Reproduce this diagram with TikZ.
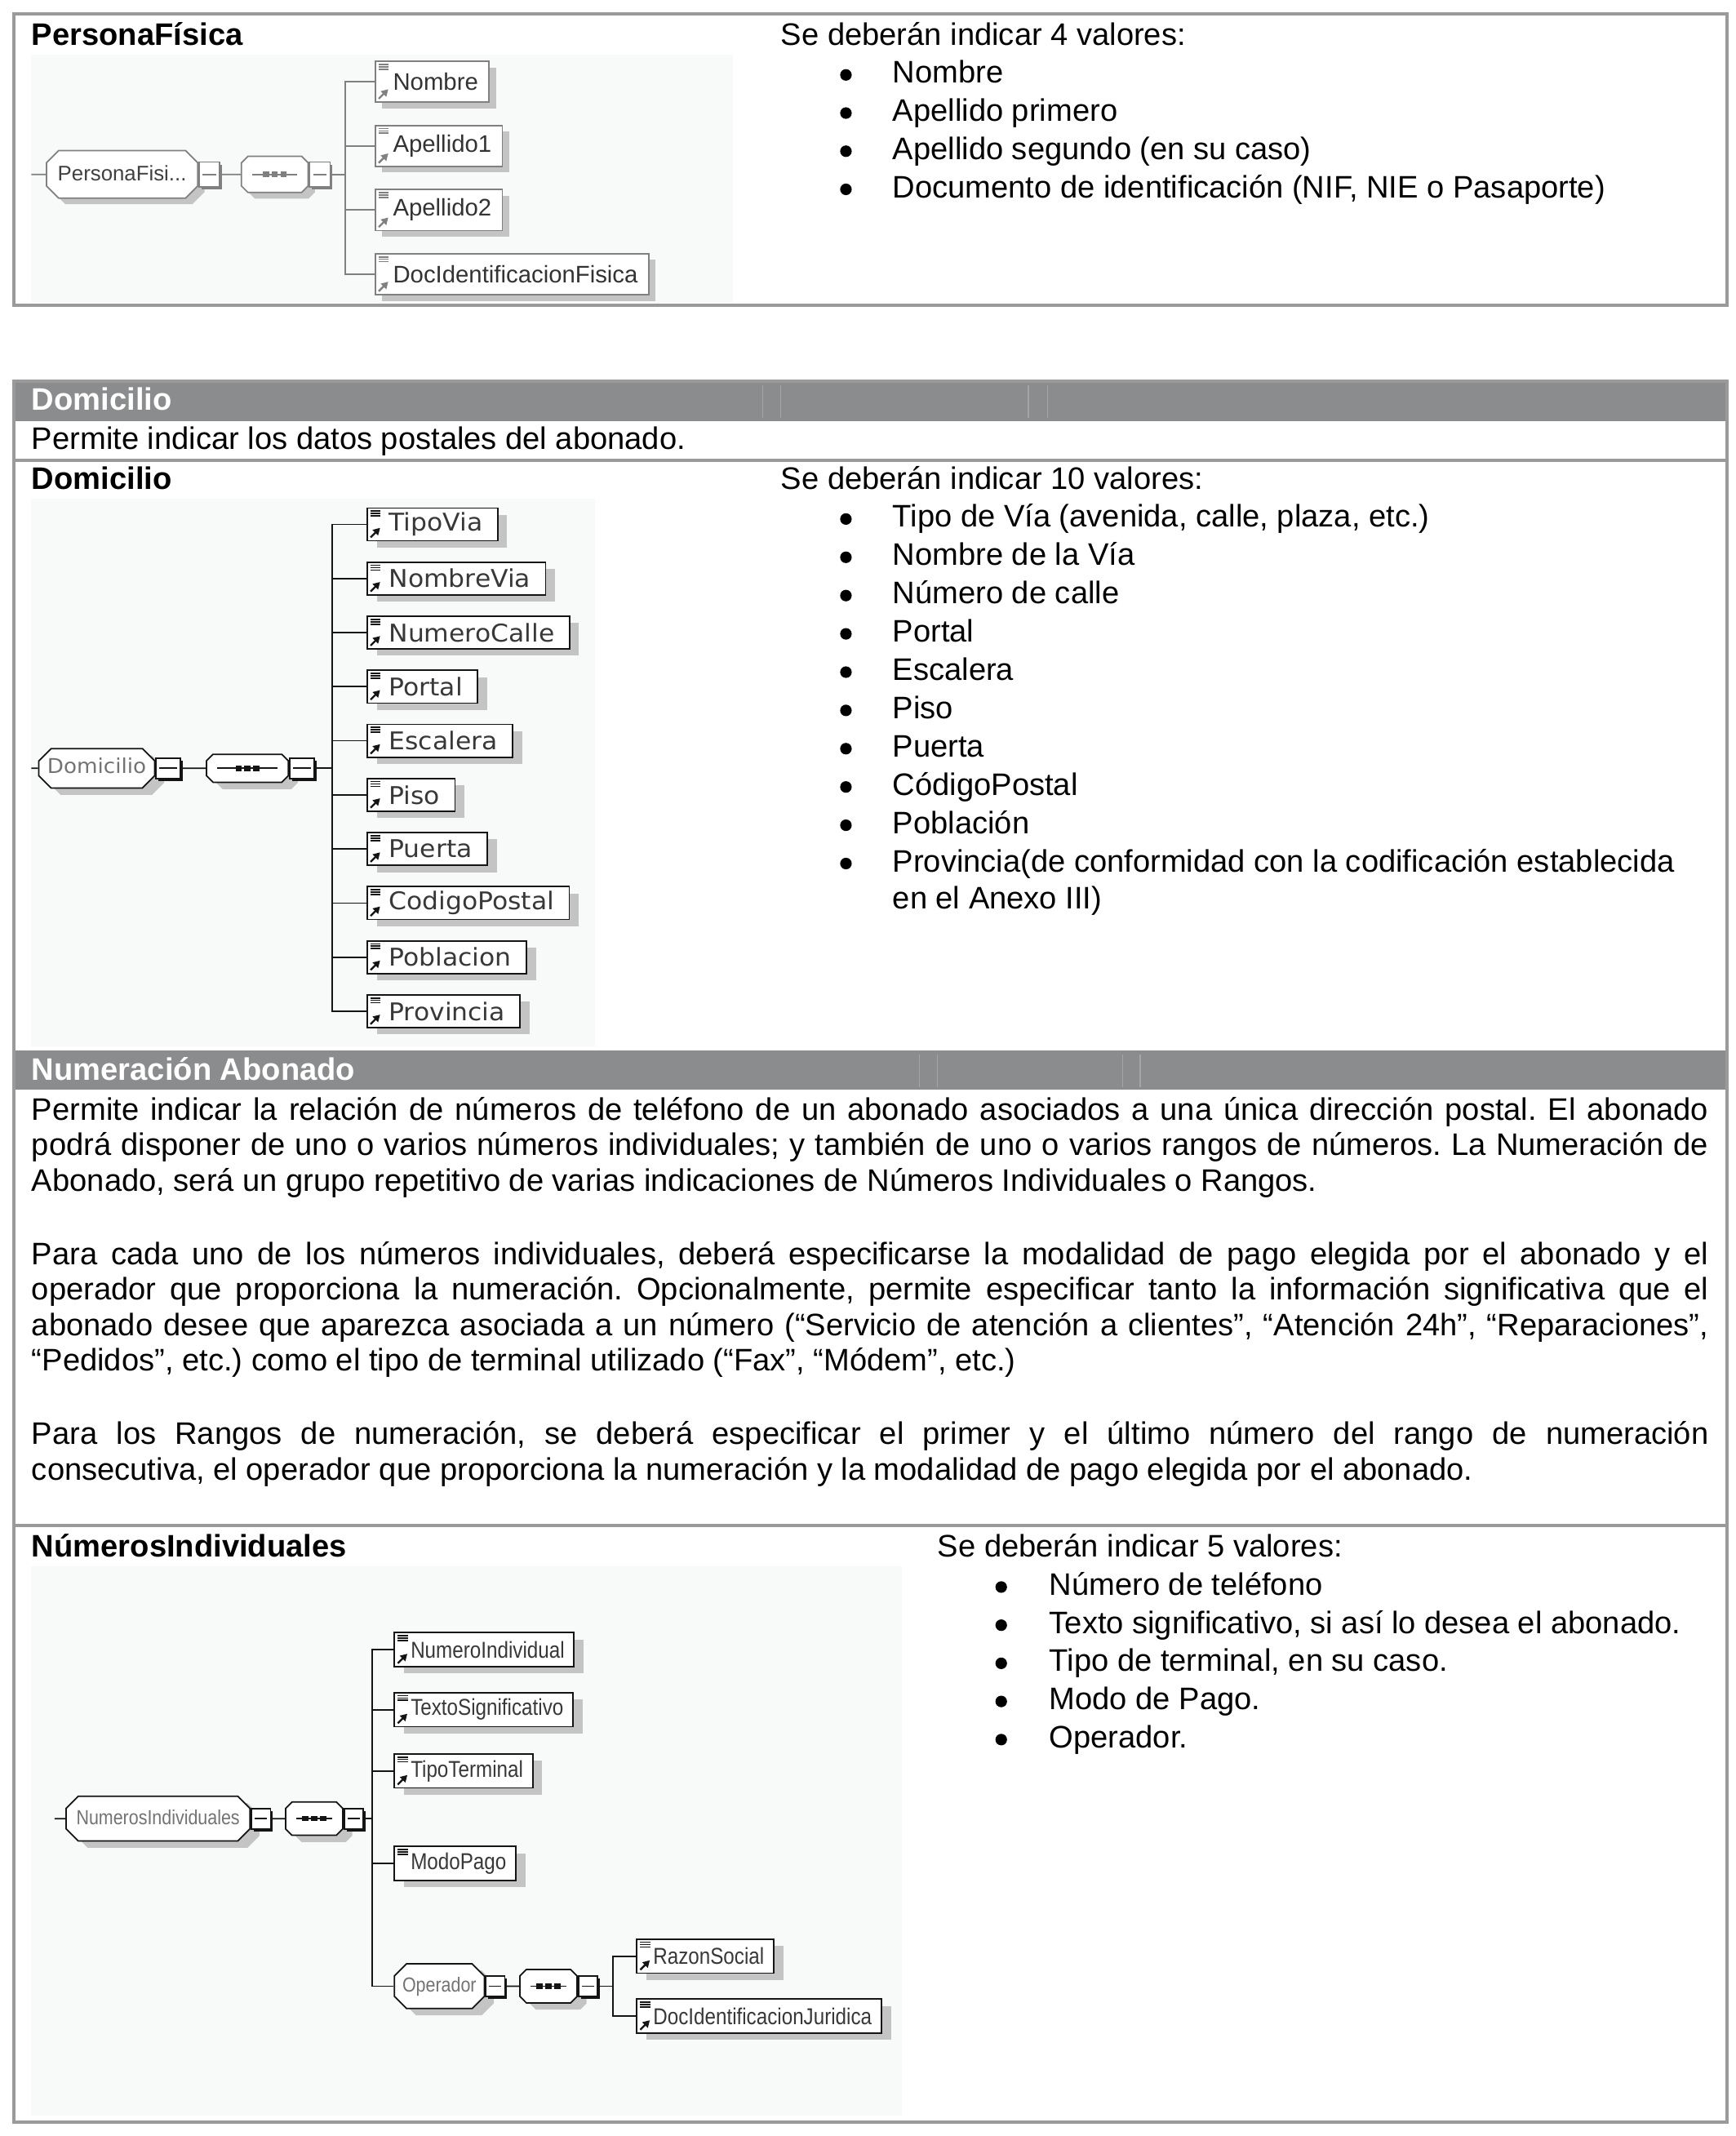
\documentclass[tikz,border=0pt]{standalone}
\usepackage{fontspec}
\setmainfont{Liberation Sans}
\newfontfamily\verdfont[FakeStretch=1.05]{DejaVu Sans}
\newfontfamily\narrowfont[FakeStretch=0.86]{Liberation Sans}
\usetikzlibrary{arrows.meta,positioning,shapes.misc,shadows}
\definecolor{rulegray}{HTML}{9A9A9A}
\definecolor{headgray}{HTML}{8B8C8D}
\definecolor{headline}{HTML}{A4A5A6}
\definecolor{diagbg}{HTML}{F8F9F9}
\definecolor{shadegray}{HTML}{C4C4C4}
\colorlet{xsdline}{black!92}
\colorlet{xsdlabel}{black!78}
\colorlet{xsdgrey}{black!55}
\newcommand\bodysize{\fontsize{13}{14.8}\selectfont}
\frenchspacing
% little icons of the schema boxes
\newcommand\xsdlines{\foreach \k in {0.45,0.8,1.15}{\draw[xsdline, line width=0.6pt] ([xshift=0.45mm,yshift=-\k mm]path picture bounding box.north west) -- ++(1.5mm,0);}}
\newcommand\xsdref{\draw[xsdline, line width=0.8pt, -{Triangle[length=1mm,width=1.1mm]}] ([xshift=0.5mm,yshift=0.5mm]path picture bounding box.south west) -- ++(1.4mm,1.4mm);}
\newcommand\xsddots{\draw[xsdline, line width=0.6pt] ([xshift=1.6mm]path picture bounding box.west) -- ([xshift=-1.6mm]path picture bounding box.east);
  \foreach \d in {-1.3,0,1.3}{\fill[xsdline] ([xshift=\d mm]path picture bounding box.center) +(-0.45mm,-0.4mm) rectangle +(0.45mm,0.4mm);}}
\tikzset{
  tableframe/.style={draw=rulegray, line width=1.3pt},
  headbar/.style={fill=headgray},
  headfaint/.style={draw=headline, line width=0.5pt},
  headtext/.style={anchor=base west, inner sep=0pt, text=white, font=\bodysize\bfseries},
  body/.style={anchor=base west, inner sep=0pt, font=\bodysize},
  bodybold/.style={body, font=\bodysize\bfseries},
  bulletdot/.style={circle, fill=black, inner sep=0pt, minimum size=1.7mm},
  para/.style={anchor=north west, inner sep=0pt, text width=246.2mm, align=justify, font=\bodysize, execute at begin node=\strut},
  xsdshadow/.style={drop shadow={shadow xshift=1.4mm, shadow yshift=-1mm, fill=shadegray, opacity=1}},
  xsdelem/.style={rectangle, draw=xsdline, line width=0.6pt, fill=white, xsdshadow, anchor=west, inner xsep=2.2mm, inner ysep=0pt, minimum height=4.8mm, text=xsdlabel, execute at begin node=\hspace*{1mm}, path picture={\xsdlines\xsdref}},
  xsdleaf/.style={xsdelem, path picture={\xsdlines}},
  xsdgroup/.style={chamfered rectangle, chamfered rectangle xsep=0.55mm, draw=xsdline, line width=0.6pt, fill=white, xsdshadow, anchor=west, inner xsep=0.4mm, inner ysep=0pt, text height=2.4mm, text depth=0.9mm, text=xsdgrey},
  xsdseqbox/.style={xsdgroup, path picture={\xsddots}},
  xsdminus/.style={rectangle, draw=xsdline, line width=0.6pt, fill=white, drop shadow={shadow xshift=0.35mm, shadow yshift=-0.35mm, fill=xsdline, opacity=1}, inner sep=0pt, minimum width=3.6mm, minimum height=3mm, path picture={\draw[xsdline, line width=0.6pt] ([xshift=0.5mm]path picture bounding box.west) -- ([xshift=-0.5mm]path picture bounding box.east);}},
  xsdconn/.style={draw=xsdline, line width=0.6pt}
}

\begin{document}
\begin{tikzpicture}[x=0.2mm, y=-0.2mm]
\useasboundingbox (0,0) rectangle (1274,1568);

% ---- PersonaFisica
\draw[tableframe] (10,10) rectangle (1268,224);
\node[bodybold] (pfhead) at (23,33) {PersonaFísica};
\node[body] (pfintro) at (573,33) {Se deberán indicar 4 valores:};
\foreach \txt [count=\i] in {Nombre, Apellido primero, Apellido segundo (en su caso), {Documento de identificación (NIF, NIE o Pasaporte)}} {
  \node[bulletdot] (pfdot\i) at (621,27+28*\i) {};
  \node[body] (pfitem\i) at (655,33+28*\i) {\txt};
}
\fill[diagbg] (23,40) rectangle (538,222);
\begin{scope}[font=\fontsize{10}{12}\selectfont, xsdelem/.append style={minimum height=6mm, inner xsep=1.6mm}, xsdgroup/.append style={font=\fontsize{8.8}{10}\selectfont, text height=3.2mm, text depth=1.3mm}, xsdminus/.append style={minimum width=3mm, minimum height=3.6mm}, xsdshadow/.style={drop shadow={shadow xshift=1mm, shadow yshift=-0.9mm, fill=shadegray, opacity=1}}]
  \colorlet{xsdline}{black!50}\colorlet{xsdlabel}{black!80}\colorlet{xsdgrey}{black!75}
  \coordinate (pfin) at (23,128);
  \node[xsdgroup, minimum width=22.2mm] (pfroot) at (33.6,128) {PersonaFisi...};
  \node[xsdminus, right=0mm of pfroot] (pfrootm) {};
  \node[xsdseqbox, minimum width=9.8mm, right=3mm of pfrootm] (pfseq) {};
  \node[xsdminus, right=0mm of pfseq] (pfseqm) {};
  \coordinate (pfbus) at (253.5,128);
  \draw[xsdconn] (pfin) -- (pfroot);
  \draw[xsdconn] (pfrootm) -- (pfseq);
  \draw[xsdconn] (pfseqm) -- (pfbus);
  \foreach \n [count=\i] in {Nombre,Apellido1,Apellido2,DocIdentificacionFisica} {
    \node[xsdelem] (pfel\i) at (275,12.9+47.1*\i) {\n};
    \draw[xsdconn] (pfbus) |- (pfel\i);
  }
\end{scope}

% ---- Domicilio
\fill[headbar] (10,280) rectangle (1268,309);
\foreach \a/\b in {560/573,755/769} {
  \draw[headfaint] (\a,283) -- (\a,307);
  \draw[headfaint] (\b,283) -- (\b,307);
}
\node[headtext] (domhead) at (23,301) {Domicilio};
\node[body] (domdesc) at (23,330) {Permite indicar los datos postales del abonado.};
\draw[tableframe] (10,338) -- (1268,338);
\node[bodybold] (domtitle) at (23,359) {Domicilio};
\node[body] (domintro) at (573,359) {Se deberán indicar 10 valores:};
\foreach \txt [count=\i] in {{Tipo de Vía (avenida, calle, plaza, etc.)}, Nombre de la Vía, Número de calle, Portal, Escalera, Piso, Puerta, CódigoPostal, Población, Provincia(de conformidad con la codificación establecida} {
  \node[bulletdot] (domdot\i) at (621,352.9+28.1*\i) {};
  \node[body] (domitem\i) at (655,358.9+28.1*\i) {\txt};
}
\node[body] (domitemend) at (655,667) {en el Anexo III)};
\fill[diagbg] (23,366) rectangle (437,768);
\begin{scope}[font=\verdfont\fontsize{10.2}{12}\selectfont, xsdgroup/.append style={font=\verdfont\fontsize{8.5}{10}\selectfont}]
  \coordinate (domin) at (23,564);
  \node[xsdgroup, minimum width=17mm] (domroot) at (28,564) {Domicilio};
  \node[xsdminus, right=0mm of domroot] (domrootm) {};
  \node[xsdseqbox, minimum width=12mm, right=3.6mm of domrootm] (domseq) {};
  \node[xsdminus, right=0mm of domseq] (domseqm) {};
  \coordinate (dombus) at (244,564);
  \draw[xsdconn] (domin) -- (domroot);
  \draw[xsdconn] (domrootm) -- (domseq);
  \draw[xsdconn] (domseqm) -- (dombus);
  \foreach \n [count=\i] in {TipoVia,NombreVia,NumeroCalle,Portal,Escalera,Piso,Puerta,CodigoPostal,Poblacion,Provincia} {
    \node[xsdelem] (domel\i) at (269,345.3+39.7*\i) {\n};
    \draw[xsdconn] (dombus) |- (domel\i);
  }
\end{scope}

% ---- Numeracion Abonado
\fill[headbar] (10,771) rectangle (1268,800);
\foreach \a/\b in {675/688,824/837} {
  \draw[headfaint] (\a,774) -- (\a,798);
  \draw[headfaint] (\b,774) -- (\b,798);
}
\node[headtext] (numhead) at (23,793) {Numeración Abonado};
\node[para] (numpar1) at (23,803.7) {Permite indicar la relación de números de teléfono de un abonado asociados a una única dirección postal. El abonado\linebreak podrá disponer de uno o varios números individuales; y también de uno o varios rangos de números. La Numeración de\linebreak Abonado, será un grupo repetitivo de varias indicaciones de Números Individuales o Rangos.};
\node[para] (numpar2) at (23,909.7) {Para cada uno de los números individuales, deberá especificarse la modalidad de pago elegida por el abonado y el\linebreak operador que proporciona la numeración. Opcionalmente, permite especificar tanto la información significativa que el\linebreak abonado desee que aparezca asociada a un número (“Servicio de atención a clientes”, “Atención 24h”, “Reparaciones”,\linebreak “Pedidos”, etc.) como el tipo de terminal utilizado (“Fax”, “Módem”, etc.)};
\node[para] (numpar3) at (23,1041.7) {Para los Rangos de numeración, se deberá especificar el primer y el último número del rango de numeración\linebreak consecutiva, el operador que proporciona la numeración y la modalidad de pago elegida por el abonado.};
\draw[tableframe] (10,1120) -- (1268,1120);
\node[bodybold] (nititle) at (23,1143) {NúmerosIndividuales};
\node[body] (niintro) at (688,1143) {Se deberán indicar 5 valores:};
\foreach \txt [count=\i] in {Número de teléfono, {Texto significativo, si así lo desea el abonado.}, {Tipo de terminal, en su caso.}, Modo de Pago., Operador.} {
  \node[bulletdot] (nidot\i) at (735,1137+28*\i) {};
  \node[body] (niitem\i) at (770,1143+28*\i) {\txt};
}
\fill[diagbg] (23,1150) rectangle (662,1553);
\begin{scope}[font=\narrowfont\fontsize{9.6}{11}\selectfont, xsdelem/.append style={minimum height=5mm, inner xsep=1.4mm}, xsdgroup/.append style={font=\narrowfont\fontsize{8.5}{10}\selectfont, text height=2.9mm, text depth=1.2mm}, xsdminus/.append style={minimum width=2.8mm}]
  \coordinate (niin) at (40,1335);
  \node[xsdgroup, minimum width=27mm] (niroot) at (48,1335) {NumerosIndividuales};
  \node[xsdminus, right=0mm of niroot] (nirootm) {};
  \node[xsdseqbox, minimum width=8.4mm, right=2mm of nirootm] (niseq) {};
  \node[xsdminus, right=0mm of niseq] (niseqm) {};
  \coordinate (nibus) at (273,1335);
  \draw[xsdconn] (niin) -- (niroot);
  \draw[xsdconn] (nirootm) -- (niseq);
  \draw[xsdconn] (niseqm) -- (nibus);
  \node[xsdelem] (ninum) at (289,1211) {NumeroIndividual};
  \node[xsdelem] (nitexto) at (289,1255) {TextoSignificativo};
  \node[xsdelem] (nitipo) at (289,1300) {TipoTerminal};
  \node[xsdleaf] (nimodo) at (289,1368) {ModoPago};
  \node[xsdgroup, minimum width=13.2mm] (niop) at (289,1458) {Operador};
  \foreach \c in {ninum,nitexto,nitipo,nimodo,niop} {\draw[xsdconn] (nibus) |- (\c);}
  \node[xsdminus, right=0mm of niop] (niopm) {};
  \node[xsdseqbox, minimum width=8.4mm, right=2mm of niopm] (niopseq) {};
  \node[xsdminus, right=0mm of niopseq] (niopseqm) {};
  \coordinate (niopbus) at (450,1458);
  \draw[xsdconn] (niopm) -- (niopseq);
  \draw[xsdconn] (niopseqm) -- (niopbus);
  \node[xsdelem] (nirazon) at (467,1436) {RazonSocial};
  \node[xsdelem] (nidocid) at (467,1480) {DocIdentificacionJuridica};
  \draw[xsdconn] (niopbus) |- (nirazon);
  \draw[xsdconn] (niopbus) |- (nidocid);
\end{scope}
\draw[tableframe] (10,280) rectangle (1268,1558);
\end{tikzpicture}
\end{document}
